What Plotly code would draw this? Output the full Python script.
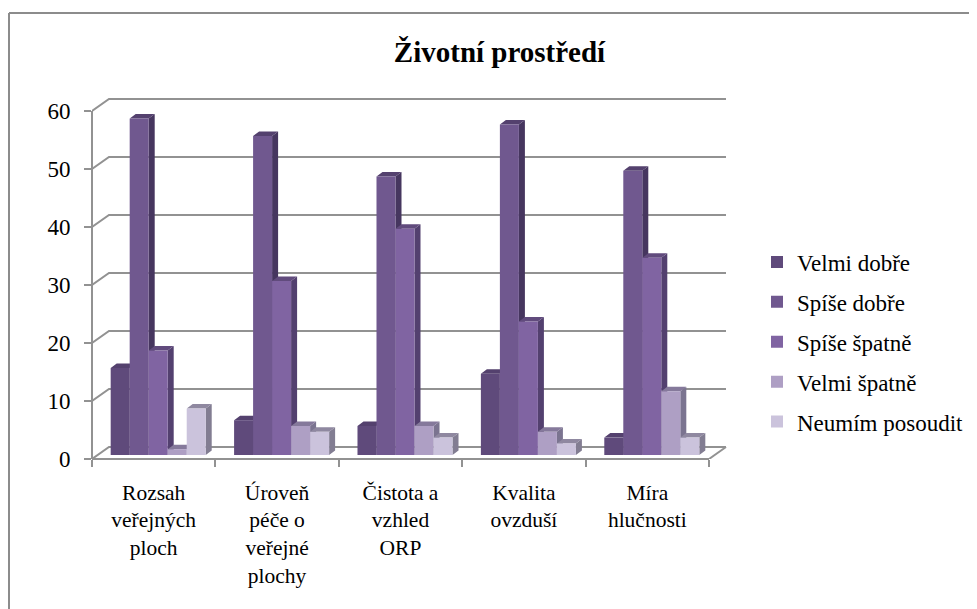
import plotly.graph_objects as go

categories = ["Rozsah<br>veřejných<br>ploch", "Úroveň<br>péče o<br>veřejné<br>plochy",
              "Čistota a<br>vzhled<br>ORP", "Kvalita<br>ovzduší", "Míra<br>hlučnosti"]
velmi_dobre = [15, 6, 5, 14, 3]
spise_dobre = [58, 55, 48, 57, 49]
spise_spatne = [18, 30, 39, 23, 34]
velmi_spatne = [1, 5, 5, 4, 11]
neumim = [8, 4, 3, 2, 3]
series_names = ["Velmi dobře", "Spíše dobře", "Spíše špatně", "Velmi špatně", "Neumím posoudit"]
series_values = [velmi_dobre, spise_dobre, spise_spatne, velmi_spatne, neumim]
front_colors = ["#5f4a7b", "#70588f", "#8064a2", "#ae9fc4", "#cbc3dc"]
side_colors = ["#4a3a60", "#46365f", "#53406f", "#7b7490", "#827d92"]
top_colors = ["#54416e", "#54416e", "#614b7d", "#85799b", "#8f88a0"]
y_ticks = [0, 10, 20, 30, 40, 50, 60]

# the page has an 8px body margin, so the figure starts at (8, 8)
PAGE = 8
W, H = 977 - PAGE, 609 - PAGE
n = len(categories)
PX_X, PX_Y = 123.4, 5.8
L, B = 92 - PAGE, 459 - PAGE
R = L + PX_X * n + 20
T = B - PX_Y * 60 - 15
GRID = "#929292"
FONT = "Liberation Serif"

x_max = (R - L) / PX_X
y_max = (B - T) / PX_Y
wall_dx, wall_dy = 17 / PX_X, 12 / PX_Y
shift_x, base_y = 4.5 / PX_X, 4 / PX_Y
face_dx, face_dy = 6 / PX_X, 4.5 / PX_Y
bargap = 0.23
bar_w = (1 - bargap) / len(series_names)

fig = go.Figure()

# back wall and floor
gx, gy = [], []
for v in y_ticks:
    gx += [0, wall_dx, n + wall_dx, None]
    gy += [v, v + wall_dy, v + wall_dy, None]
gx += [n, n + wall_dx, None]
gy += [0, wall_dy, None]
fig.add_trace(go.Scatter(x=gx, y=gy, mode="lines", line=dict(color=GRID, width=2),
                         showlegend=False, hoverinfo="skip", zorder=0))

centers = [i + 0.5 for i in range(n)]
for k, (name, vals) in enumerate(zip(series_names, series_values)):
    sx, sy, tx, ty = [], [], [], []
    for c, v in zip(centers, vals):
        left = c + shift_x + bar_w * (k - 2.5)
        right = left + bar_w
        sx += [right, right + face_dx, right + face_dx, right, right, None]
        sy += [base_y, base_y + face_dy, base_y + v + face_dy, base_y + v, base_y, None]
        tx += [left, left + face_dx, right + face_dx, right, left, None]
        ty += [base_y + v, base_y + v + face_dy, base_y + v + face_dy, base_y + v, base_y + v, None]
    z = 1 + 2 * k
    fig.add_trace(go.Scatter(x=sx, y=sy, mode="lines", fill="toself", fillcolor=side_colors[k],
                             line=dict(width=0), showlegend=False, hoverinfo="skip", zorder=z))
    fig.add_trace(go.Scatter(x=tx, y=ty, mode="lines", fill="toself", fillcolor=top_colors[k],
                             line=dict(width=0), showlegend=False, hoverinfo="skip", zorder=z))
    fig.add_trace(go.Bar(x=[c + shift_x for c in centers], y=vals, base=base_y, name=name,
                         legendgroup=name, marker=dict(color=front_colors[k], line=dict(width=0)),
                         zorder=z + 1))

PW, PH = R - L, B - T
frame_x = (9 - PAGE - L) / PW
frame_y = 1 + (T - (13 - PAGE)) / PH
frame_r = (W - L) / PW
frame_b = -(H - B) / PH
frame = dict(type="line", xref="paper", yref="paper", line=dict(color="#8c8c8c", width=2))
axis_line = dict(type="line", xref="paper", yref="paper", line=dict(color=GRID, width=2), layer="below")

fig.update_layout(
    width=W, height=H, autosize=False,
    margin=dict(l=L, r=W - R, t=T, b=H - B, pad=0),
    paper_bgcolor="white", plot_bgcolor="rgba(0,0,0,0)",
    barmode="group", bargap=bargap, bargroupgap=0,
    font=dict(family=FONT, size=22, color="#000000"),
    title=dict(text="<b>Životní prostředí</b>", x=(499.5 - PAGE) / W, xanchor="center",
               y=1 - 44 / H, yanchor="middle", font=dict(family=FONT, size=29, color="#000000")),
    xaxis=dict(type="linear", range=[0, x_max], tickmode="array", tickvals=centers, ticktext=categories,
               ticks="", showgrid=False, zeroline=False, showline=False, automargin=False,
               tickfont=dict(family=FONT, size=21.5), ticklabelstandoff=18,
               minor=dict(tickmode="array", tickvals=list(range(n + 1)), ticks="outside",
                          ticklen=7, tickwidth=2, tickcolor=GRID, showgrid=False)),
    yaxis=dict(range=[0, y_max], tickmode="array", tickvals=y_ticks, ticks="outside", ticklen=7,
               tickwidth=2, tickcolor=GRID, showgrid=False, zeroline=False, showline=False,
               automargin=False, tickfont=dict(family=FONT, size=23), ticklabelstandoff=9),
    legend=dict(xref="container", yref="container", x=(757 - PAGE) / W, xanchor="left",
                y=1 - (342 - PAGE) / H, yanchor="middle",
                traceorder="grouped", tracegroupgap=7, font=dict(family=FONT, size=23),
                bgcolor="rgba(0,0,0,0)"),
    shapes=[dict(frame, x0=frame_x, x1=frame_x, y0=frame_b, y1=frame_y),
            dict(frame, x0=frame_x, x1=frame_r, y0=frame_y, y1=frame_y),
            dict(axis_line, x0=0, x1=0, y0=0, y1=60 / y_max),
            dict(axis_line, x0=0, x1=n / x_max, y0=0, y1=0)],
)
fig.write_html("out.html")
